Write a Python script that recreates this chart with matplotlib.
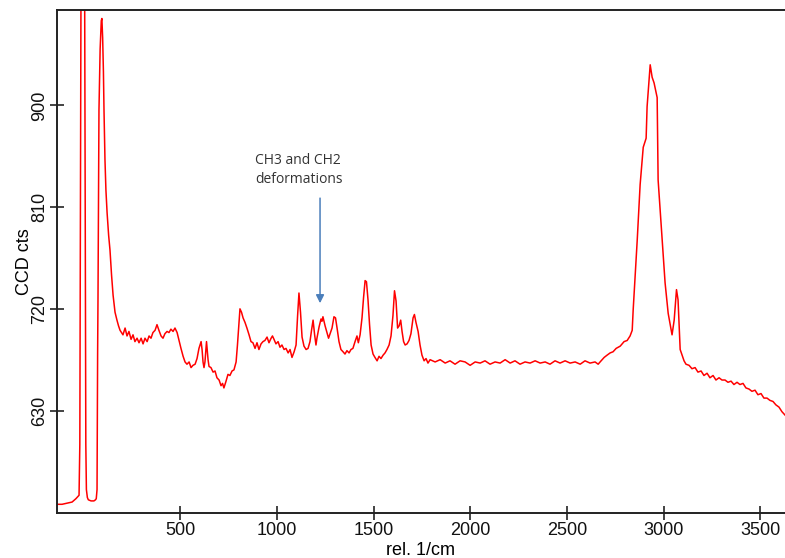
import numpy as np
import matplotlib
matplotlib.use("Agg")
import matplotlib.pyplot as plt

plt.rcParams['font.family'] = ['Liberation Sans', 'DejaVu Sans']

# Raman spectrum, (rel. 1/cm, CCD cts) pairs per region
laser_region = [
    (-137, 547), (-111, 547), (-85, 548), (-59, 549), (-39, 552), (-23, 555),
    (-19, 600), (-16, 800), (-13, 1000), (-4, 1600), (6, 1000), (9, 800),
    (12, 600), (15, 560), (20, 553), (25, 551), (39, 550), (54, 550),
    (62, 551), (66, 552), (70, 560), (73, 680), (75, 730), (78, 820),
    (80, 896), (86, 950), (92, 975), (95, 977), (99, 960), (103, 930),
    (106, 896), (111, 852), (116, 825), (122, 805), (130, 785), (137, 772),
    (145, 750), (153, 732), (163, 717), (173, 710), (181, 705),
]

low_region = [
    (189, 701), (204, 697), (215, 703), (225, 696), (235, 700), (246, 693),
    (256, 697), (266, 691), (277, 694), (287, 690), (298, 694), (308, 689),
    (318, 694), (329, 691), (339, 696), (349, 694), (359, 699), (370, 701),
    (380, 706), (390, 701), (401, 696), (411, 694), (421, 698), (432, 700),
    (442, 699), (452, 702), (463, 700), (473, 703), (484, 699), (494, 692),
    (504, 685), (515, 678), (525, 673), (535, 671), (546, 673), (556, 668),
    (566, 670), (577, 671), (587, 676), (597, 685), (608, 691), (613, 684),
    (618, 673), (623, 668), (628, 673), (636, 691), (644, 675), (649, 669),
    (659, 668), (670, 664), (680, 665), (690, 659), (701, 657), (711, 652),
    (719, 654), (726, 650), (737, 656), (747, 662), (757, 661), (768, 665),
    (778, 666), (789, 673), (796, 688), (804, 708), (809, 720), (817, 717),
    (825, 712), (835, 708), (845, 703), (856, 697), (866, 691), (876, 690),
    (887, 685), (897, 690), (907, 684), (918, 689), (928, 691),
]

fingerprint = [
    (938, 692), (949, 695), (959, 690), (970, 694), (977, 696), (985, 693),
    (995, 689), (1006, 691), (1016, 686), (1026, 688), (1037, 684), (1047, 685),
    (1058, 681), (1068, 684), (1078, 677), (1089, 682), (1099, 688), (1107, 714),
    (1114, 734), (1122, 717), (1130, 695), (1140, 687), (1151, 684), (1161, 685),
    (1171, 691), (1179, 701), (1187, 710), (1195, 697), (1202, 688), (1207, 694),
    (1218, 704), (1228, 711), (1233, 709), (1238, 713), (1249, 705), (1259, 699),
    (1267, 694), (1275, 698), (1285, 703), (1295, 713), (1303, 712), (1311, 703),
    (1321, 691), (1331, 684), (1342, 682), (1352, 680), (1362, 683), (1373, 681),
    (1383, 684), (1393, 685), (1404, 691), (1414, 696), (1421, 690), (1430, 697),
    (1440, 712), (1448, 730), (1456, 745), (1463, 744), (1471, 728), (1479, 706),
    (1487, 688), (1497, 680), (1507, 677), (1518, 674), (1528, 678), (1538, 676),
    (1549, 679), (1559, 681), (1569, 684), (1580, 688), (1590, 696), (1600, 714),
    (1608, 736), (1616, 727), (1624, 703), (1632, 705), (1640, 710), (1647, 700),
    (1655, 691), (1663, 688), (1673, 689), (1683, 692), (1693, 698), (1704, 712),
    (1711, 715), (1719, 708), (1730, 700), (1740, 688), (1750, 679), (1761, 674),
    (1771, 676), (1781, 672), (1792, 675),
]

flat_region = [
    (1818, 673), (1844, 675), (1870, 672), (1895, 674), (1921, 671), (1947, 674),
    (1973, 673), (1999, 670), (2025, 673), (2051, 672), (2076, 674), (2102, 671),
    (2128, 673), (2154, 672), (2180, 675), (2206, 672), (2231, 674), (2257, 671),
    (2283, 673), (2309, 672), (2335, 674), (2361, 672), (2387, 673), (2412, 671),
    (2438, 674), (2464, 672), (2490, 674), (2516, 672), (2542, 673), (2568, 671),
    (2593, 674), (2619, 672), (2645, 673), (2661, 671),
]

ch_stretch = [
    (2671, 673), (2692, 677), (2707, 679), (2723, 681), (2738, 682), (2754, 685),
    (2775, 687), (2795, 691), (2811, 692), (2826, 696), (2837, 701), (2842, 719),
    (2863, 781), (2878, 830), (2894, 863), (2909, 871), (2914, 899), (2930, 936),
    (2940, 925), (2950, 920), (2966, 907), (2971, 834), (2992, 781), (3007, 743),
    (3023, 716), (3043, 697), (3054, 710), (3066, 737), (3074, 728), (3085, 684),
    (3095, 679), (3105, 674), (3115, 671), (3131, 670), (3146, 667), (3162, 668),
    (3177, 664), (3193, 665), (3208, 661), (3224, 663), (3239, 659), (3255, 661),
    (3270, 657), (3286, 659), (3301, 657), (3317, 657), (3332, 655), (3348, 656),
    (3363, 653), (3379, 655), (3394, 653), (3410, 654), (3425, 650), (3441, 649),
    (3456, 647), (3472, 648), (3487, 644), (3503, 645), (3518, 641), (3534, 641),
    (3549, 639), (3565, 638), (3580, 635), (3596, 633), (3611, 629), (3627, 626),
]

x_ticks = [500, 1000, 1500, 2000, 2500, 3000, 3500]
y_ticks = [630, 720, 810, 900]

spectrum = np.array(laser_region + low_region + fingerprint + flat_region + ch_stretch)
shift = spectrum[:, 0]
cts = spectrum[:, 1]

fig = plt.figure(figsize=(7.85, 5.58), dpi=100)
ax = fig.add_axes([57 / 785, 1 - 513 / 558, 1 - 57 / 785, 503 / 558])

ax.plot(shift, cts, color='#ff0000', lw=1.1)

ax.set_xlim(-137, 3627)
ax.set_ylim(539.3, 984.5)
ax.set_xticks(x_ticks)
ax.set_yticks(y_ticks)
ax.tick_params(direction='inout', length=9.5, width=1.1, labelsize=13, colors='#111111')
ax.tick_params(axis='x', pad=1.5)
ax.tick_params(axis='y', pad=1.5, labelrotation=90)
for lab in ax.get_yticklabels():
    lab.set_va('center')

ax.spines['right'].set_visible(False)
for s in ['left', 'top', 'bottom']:
    ax.spines[s].set_linewidth(1.4)
    ax.spines[s].set_color('#222222')

ax.set_xlabel('rel. 1/cm', fontsize=13, labelpad=2.5)
ax.set_ylabel('CCD cts', fontsize=13, labelpad=-1)

ax.annotate('', xy=(1223, 725), xytext=(1223, 818),
            arrowprops=dict(arrowstyle='-|>', color='#4a7ebb', lw=1.1,
                            mutation_scale=12, shrinkA=0, shrinkB=0))
ax.text(888, 843, 'CH3 and CH2\ndeformations', ha='left', va='center',
        fontsize=10, family=['Open Sans', 'DejaVu Sans'], color='#333333',
        linespacing=1.3)

fig.savefig('out.png', dpi=100)
